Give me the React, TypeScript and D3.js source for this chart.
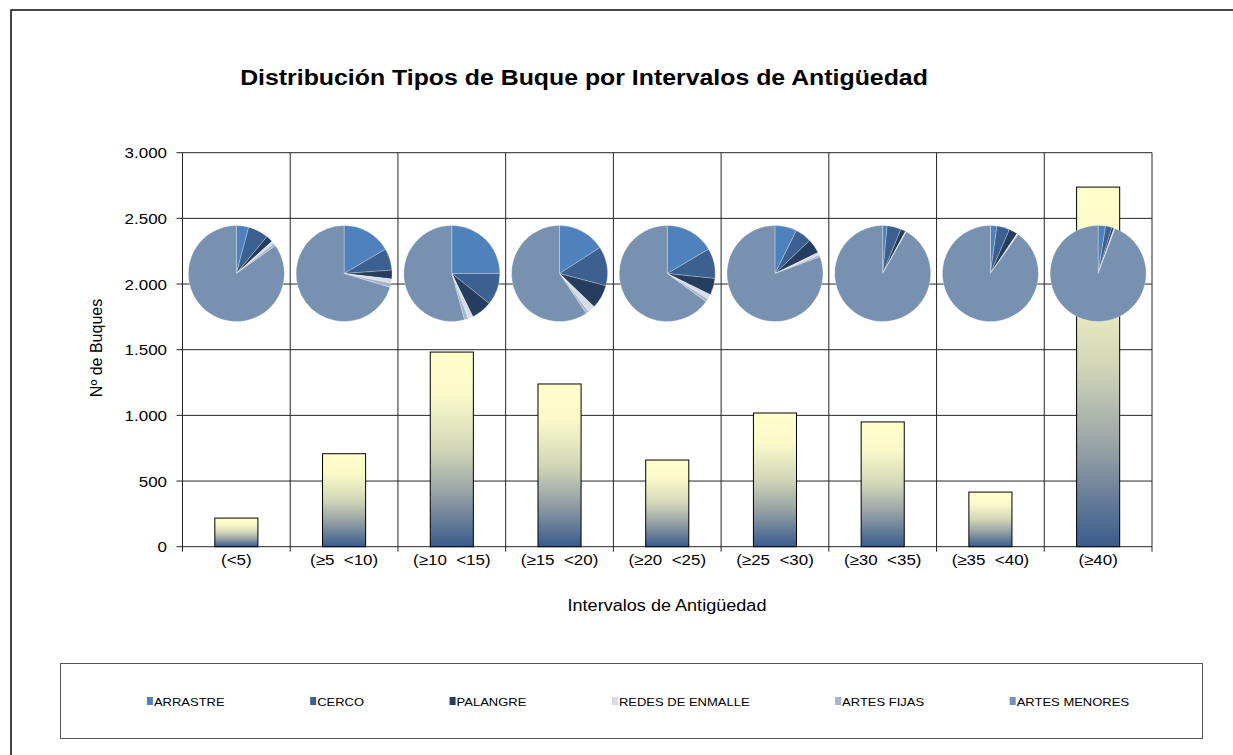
import React from "react";
import * as d3 from "d3";

const categories = ["(<5)", "(≥5  <10)", "(≥10  <15)", "(≥15  <20)", "(≥20  <25)", "(≥25  <30)", "(≥30  <35)", "(≥35  <40)", "(≥40)"];
const vesselTypes = ["ARRASTRE", "CERCO", "PALANGRE", "REDES DE ENMALLE", "ARTES FIJAS", "ARTES MENORES"];
const arrastre = [9, 117, 370, 197, 109, 75, 14, 9, 68];
const cerco = [15, 52, 160, 164, 67, 56, 45, 18, 58];
const palangre = [5, 21, 104, 100, 37, 50, 16, 12, 21];
const redes = [2, 10, 25, 30, 11, 9, 2, 1, 5];
const fijas = [2, 10, 19, 12, 7, 7, 1, 1, 5];
const menores = [185, 498, 804, 736, 429, 821, 872, 375, 2581];
const yTicks = [0, 500, 1000, 1500, 2000, 2500, 3000];
const typeColors = ["#4F81BD", "#3C6090", "#253E5F", "#D7DDE6", "#A6B5CB", "#7891B0"];

const series = [arrastre, cerco, palangre, redes, fijas, menores];
const totals = categories.map((_, i) => d3.sum(series, (s) => s[i]));

const W = 1233;
const H = 755;
const plot = { left: 182.5, right: 1152, top: 152.7, bottom: 546.7 };
const FONT = "Arial, 'Liberation Sans', sans-serif";
const PIE_CENTER_VALUE = 2080;
const PIE_R = 48;
const SX = 1.13; // horizontal stretch of text in the reference

const fmt = d3.formatLocale({ decimal: ",", thousands: ".", grouping: [3], currency: ["", ""] }).format(",");

function measure(text: string, font: string) {
  const c = document.createElement("canvas").getContext("2d");
  if (!c) return text.length * 7;
  c.font = font;
  return c.measureText(text).width;
}

function HText(props: { x: number; y: number; size: number; anchor?: string; bold?: boolean; children: React.ReactNode }) {
  const { x, y, size, anchor, bold, children } = props;
  return (
    <text
      transform={`translate(${x},${y}) scale(${SX},1)`}
      textAnchor={anchor || "start"}
      fontSize={size}
      fontWeight={bold ? "bold" : "normal"}
      fill="#000"
      style={{ whiteSpace: "pre" }}
    >
      {children}
    </text>
  );
}

export default function App() {
  const x = d3.scaleBand<string>().domain(categories).range([plot.left, plot.right]).paddingInner(0).paddingOuter(0);
  const y = d3.scaleLinear().domain([0, 3000]).range([plot.bottom, plot.top]);
  const bw = x.bandwidth() * 0.4;
  const pieGen = d3.pie<number>().sort(null).value((d) => d);
  const arcGen = d3.arc<d3.PieArcDatum<number>>().innerRadius(0).outerRadius(PIE_R);

  // legend layout
  const legendSize = 11.5;
  const legendFont = `${legendSize}px ${FONT}`;
  const sw = 6;
  const gap = 85.5;
  const widths = vesselTypes.map((t) => measure(t, legendFont) * SX);
  const totalW = d3.sum(widths) + vesselTypes.length * (sw + 1) + gap * (vesselTypes.length - 1);
  let lx = 638 - totalW / 2;
  const legendItems = vesselTypes.map((t, i) => {
    const item = { t, x: lx, color: typeColors[i] };
    lx += sw + 1 + widths[i] + gap;
    return item;
  });

  const boundaries = d3.range(categories.length + 1).map((i) => plot.left + i * x.bandwidth());

  return (
    <svg width={W} height={H} style={{ position: "absolute", left: 0, top: 0, display: "block", background: "#fff" }} fontFamily={FONT}>
      <defs>
        <linearGradient id="barGrad" x1="0" y1="0" x2="0" y2="1">
          <stop offset="0" stopColor="#FFFFCC" />
          <stop offset="0.22" stopColor="#FAFAC9" />
          <stop offset="0.5" stopColor="#D2D6B8" />
          <stop offset="0.72" stopColor="#98A3A6" />
          <stop offset="1" stopColor="#3A5B8C" />
        </linearGradient>
      </defs>
      <rect x={0} y={0} width={W} height={H} fill="#fff" />
      <rect x={11} y={10} width={W + 20} height={H + 20} fill="none" stroke="#1a1a1a" strokeWidth={1.6} />

      <HText x={584} y={85} size={22} anchor="middle" bold>
        Distribución Tipos de Buque por Intervalos de Antigüedad
      </HText>

      {/* horizontal gridlines & y ticks */}
      {yTicks.map((v) => (
        <g key={v}>
          <line x1={plot.left - 6} x2={plot.right} y1={y(v)} y2={y(v)} stroke="#262626" strokeWidth={1} />
          <HText x={167} y={y(v) + 5.5} size={15} anchor="end">
            {fmt(v)}
          </HText>
        </g>
      ))}
      {/* vertical category lines */}
      {boundaries.map((bx, i) => (
        <line key={i} x1={bx} x2={bx} y1={plot.top} y2={plot.bottom + 5} stroke="#262626" strokeWidth={1} />
      ))}

      {/* bars */}
      {categories.map((c, i) => (
        <rect
          key={c}
          x={(x(c) as number) + x.bandwidth() / 2 - bw / 2}
          y={y(totals[i])}
          width={bw}
          height={y(0) - y(totals[i])}
          fill="url(#barGrad)"
          stroke="#000"
          strokeWidth={1}
        />
      ))}

      {/* pies */}
      {categories.map((c, i) => {
        const vals = series.map((s) => s[i]);
        const cx = (x(c) as number) + x.bandwidth() / 2;
        const cy = y(PIE_CENTER_VALUE);
        return (
          <g key={c} transform={`translate(${cx},${cy})`}>
            {pieGen(vals).map((a, j) => (
              <path key={j} d={arcGen(a) || ""} fill={typeColors[j]} stroke="#ffffff" strokeOpacity={0.45} strokeWidth={0.6} />
            ))}
          </g>
        );
      })}

      {/* x labels */}
      {categories.map((c) => (
        <HText key={c} x={(x(c) as number) + x.bandwidth() / 2} y={565} size={15} anchor="middle">
          {c}
        </HText>
      ))}

      <HText x={667} y={611} size={16} anchor="middle">
        Intervalos de Antigüedad
      </HText>
      <text transform="translate(102,348) rotate(-90)" textAnchor="middle" fontSize={16} fill="#000">
        Nº de Buques
      </text>

      {/* legend */}
      <rect x={60.5} y={663.5} width={1142} height={75} fill="#fff" stroke="#555" strokeWidth={1} />
      {legendItems.map((it) => (
        <g key={it.t}>
          <rect x={it.x} y={697} width={sw} height={8} fill={it.color} />
          <HText x={it.x + sw + 1} y={705.5} size={legendSize}>
            {it.t}
          </HText>
        </g>
      ))}
    </svg>
  );
}
